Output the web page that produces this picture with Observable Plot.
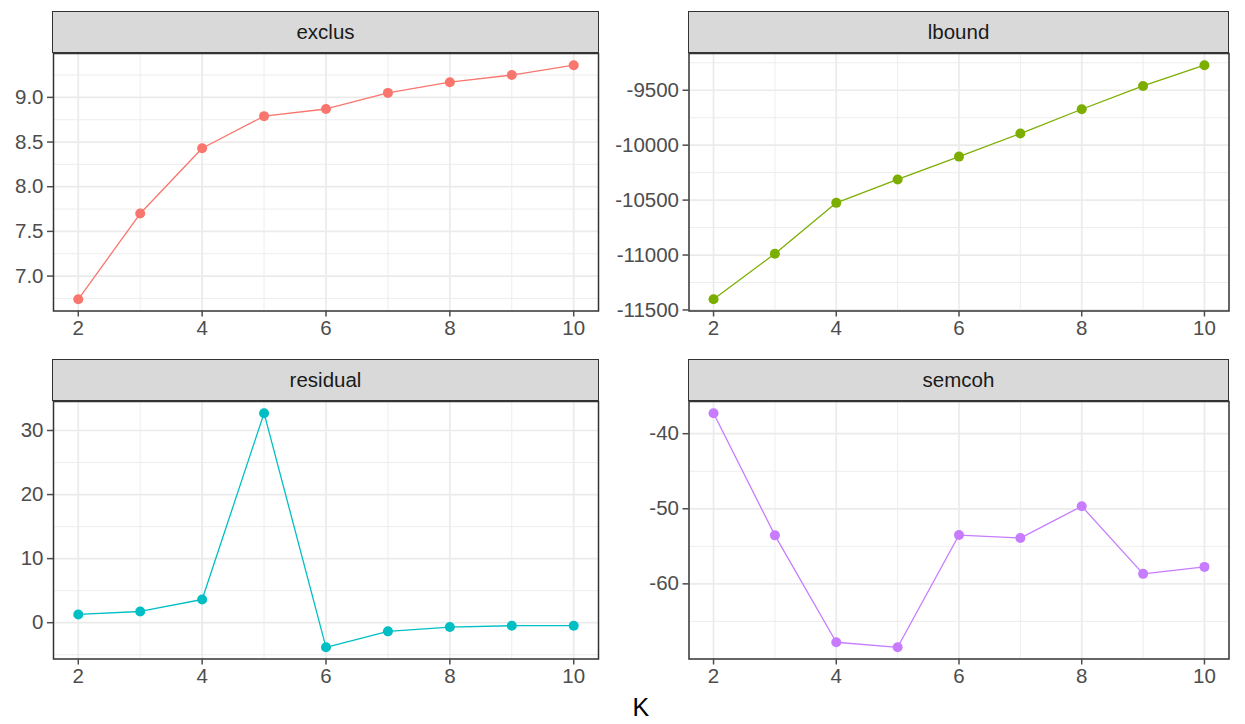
<!DOCTYPE html>
<html>
<head>
<meta charset="utf-8">
<script src="https://cdn.jsdelivr.net/npm/d3@7"></script>
<script src="https://cdn.jsdelivr.net/npm/@observablehq/plot@0.6"></script>
<style>
  html, body { margin: 0; padding: 0; background: #ffffff; }
  #root { position: relative; width: 1245px; height: 724px; overflow: hidden; font-family: 'Liberation Sans', Arial, sans-serif; }
  .strip { position: absolute; box-sizing: border-box; background: #D9D9D9; border: 1.5px solid #333333;
           color: #1A1A1A; font-size: 20.5px; display: flex; align-items: center; justify-content: center; }
  .panel { position: absolute; }
  .xtitle { position: absolute; font-size: 25px; color: #000; transform: translateX(-50%); }
</style>
</head>
<body>
<div id="root"></div>
<script>
// ---- data ----
const K = [2, 3, 4, 5, 6, 7, 8, 9, 10];
const exclus   = [6.74, 7.70, 8.43, 8.79, 8.87, 9.05, 9.17, 9.25, 9.36];
const lbound   = [-11403, -10988, -10525, -10312, -10104, -9894, -9673, -9461, -9272];
const residual = [1.29, 1.75, 3.62, 32.7, -3.84, -1.35, -0.68, -0.47, -0.47];
const semcoh   = [-37.27, -53.54, -67.78, -68.45, -53.5, -53.9, -49.66, -58.67, -57.74];

const panelNames = ["exclus", "lbound", "residual", "semcoh"];
const panelValues = [exclus, lbound, residual, semcoh];
const panelColors = ["#F8766D", "#7CAE00", "#00BFC4", "#C77CFF"];

const xMajor = [2, 4, 6, 8, 10];
const xMinor = [3, 5, 7, 9];
const yMajor = [
  [7.0, 7.5, 8.0, 8.5, 9.0],
  [-11500, -11000, -10500, -10000, -9500],
  [0, 10, 20, 30],
  [-60, -50, -40]
];
const yMinor = [
  [6.75, 7.25, 7.75, 8.25, 8.75, 9.25],
  [-11250, -10750, -10250, -9750, -9250],
  [-5, 5, 15, 25],
  [-65, -55, -45]
];
const yFormats = [d => d.toFixed(1), d => String(d), d => String(d), d => String(d)];
const xTitle = "K";

// ---- layout ----
const cols = [
  {svgLeft: 0, L: 53, R: 598},
  {svgLeft: 605, L: 688.5, R: 1228.5}
];
const rows = [
  {stripTop: 11, T: 52.5, B: 310},
  {stripTop: 358.5, T: 400.5, B: 658}
];

const root = document.getElementById("root");

panelNames.forEach((name, i) => {
  const c = cols[i % 2], r = rows[Math.floor(i / 2)];
  const vals = panelValues[i];
  const data = K.map((k, j) => ({K: k, value: vals[j]}));
  const lo = d3.min(vals), hi = d3.max(vals), span = hi - lo;
  const yDomain = [lo - 0.05 * span, hi + 0.05 * span];
  const xDomain = [2 - 0.05 * 8, 10 + 0.05 * 8];

  const mt = 5, mb = 40, mr = 15;
  const ml = c.L - c.svgLeft;
  const width = c.R - c.svgLeft + mr;
  const height = mt + (r.B - r.T) + mb;

  const chart = Plot.plot({
    width, height,
    marginLeft: ml, marginRight: mr, marginTop: mt, marginBottom: mb,
    x: {domain: xDomain},
    y: {domain: yDomain},
    style: {fontSize: "20.5px", fontFamily: "'Liberation Sans', Arial, sans-serif", background: "transparent", overflow: "visible"},
    marks: [
      Plot.ruleY(yMinor[i], {stroke: "#EBEBEB", strokeWidth: 0.9}),
      Plot.ruleX(xMinor, {stroke: "#EBEBEB", strokeWidth: 0.9}),
      Plot.ruleY(yMajor[i], {stroke: "#EBEBEB", strokeWidth: 1.7}),
      Plot.ruleX(xMajor, {stroke: "#EBEBEB", strokeWidth: 1.7}),
      Plot.line(data, {x: "K", y: "value", stroke: panelColors[i], strokeWidth: 1.3}),
      Plot.dot(data, {x: "K", y: "value", fill: panelColors[i], r: 5}),
      Plot.frame({stroke: "#333333", strokeWidth: 1.5}),
      Plot.axisX({ticks: xMajor, tickSize: 6, tickPadding: 3, label: null, color: "#4D4D4D", strokeWidth: 1.5}),
      Plot.axisY({ticks: yMajor[i], tickSize: 6, tickPadding: 4, label: null, color: "#4D4D4D", strokeWidth: 1.5, tickFormat: yFormats[i]})
    ]
  });
  chart.classList.add("panel");
  chart.style.left = c.svgLeft + "px";
  chart.style.top = (r.T - mt) + "px";
  root.appendChild(chart);

  const strip = document.createElement("div");
  strip.className = "strip";
  strip.style.left = (c.L - 0.75) + "px";
  strip.style.top = r.stripTop + "px";
  strip.style.width = (c.R - c.L + 1.5) + "px";
  strip.style.height = (r.T - r.stripTop + 0.75) + "px";
  strip.textContent = name;
  root.appendChild(strip);
});

const xt = document.createElement("div");
xt.className = "xtitle";
xt.style.left = ((cols[0].L + cols[1].R) / 2) + "px";
xt.style.top = "693px";
xt.textContent = xTitle;
root.appendChild(xt);
</script>
</body>
</html>
